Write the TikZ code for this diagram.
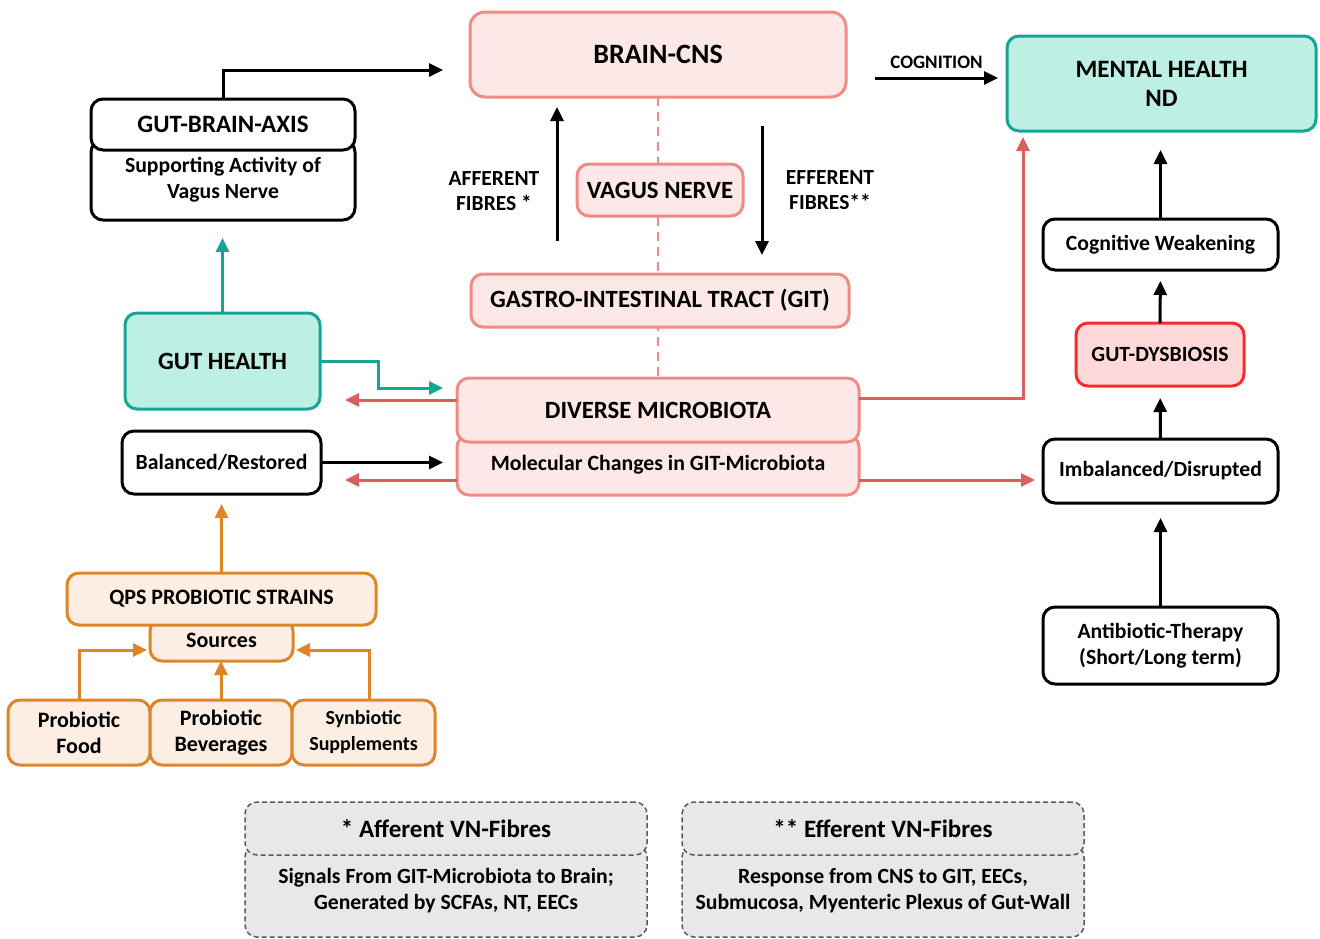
\documentclass[tikz,border=0pt]{standalone}
\usepackage{fontspec}
\setmainfont{Carlito}
\usetikzlibrary{arrows.meta, positioning}
\definecolor{colorPinkFill}{HTML}{FDE8E8}
\definecolor{colorPinkLine}{HTML}{F08A84}
\definecolor{colorRedArrow}{HTML}{D9605A}
\definecolor{colorMintFill}{HTML}{BDEFE3}
\definecolor{colorTealLine}{HTML}{16A595}
\definecolor{colorDysFill}{HTML}{FFD9D9}
\definecolor{colorDysLine}{HTML}{F42C2C}
\definecolor{colorOrangeLine}{HTML}{DE8626}
\definecolor{colorOrangeFill}{HTML}{FDEEE3}
\definecolor{colorNoteFill}{HTML}{E8E8E8}
\definecolor{colorNoteLine}{HTML}{5A5A5A}
\newcommand{\fsz}[2]{\fontsize{#1}{#2}\selectfont}
\tikzset{
  box/.style={draw, rounded corners=12pt, line width=3pt, align=center, inner sep=0pt, outer sep=0pt, font=\bfseries\fsz{21.7}{26}},
  blackbox/.style={box, draw=black, fill=white},
  pinkbox/.style={box, draw=colorPinkLine, fill=colorPinkFill, font=\bfseries\fsz{24.8}{28}},
  mintbox/.style={box, draw=colorTealLine, fill=colorMintFill, font=\bfseries\fsz{24.8}{29}},
  dysbox/.style={box, draw=colorDysLine, fill=colorDysFill},
  orangebox/.style={box, draw=colorOrangeLine, fill=colorOrangeFill, font=\bfseries\fsz{22}{26}},
  notebox/.style={box, draw=colorNoteLine, fill=colorNoteFill, line width=1.5pt, dash pattern=on 5pt off 3pt},
  link/.style={line width=3pt, ->},
  blacklink/.style={link, black},
  redlink/.style={link, colorRedArrow},
  teallink/.style={link, colorTealLine},
  orangelink/.style={link, colorOrangeLine},
  fibre/.style={align=center, font=\bfseries\fsz{21.5}{25}}
}

\begin{document}
\begin{tikzpicture}[x=1pt, y=-1pt, >={Triangle[length=14pt,width=13pt]}]
\useasboundingbox (0,0) rectangle (1320,938);

% centre column: brain, vagus nerve, git, microbiota
\node[pinkbox, minimum width=376pt, minimum height=85pt, rounded corners=15pt, font=\bfseries\fsz{28}{30}] (brain) at (658,54.5) {BRAIN-CNS};
\node[pinkbox, minimum width=402pt, minimum height=60pt, font=\bfseries\fsz{21.8}{24}] (molecular) at (658,465) {Molecular Changes in GIT-Microbiota};
\node[pinkbox, minimum width=402pt, minimum height=64pt, above=-7pt of molecular] (diverse) {DIVERSE MICROBIOTA};
\draw[colorPinkLine, line width=2.6pt, dash pattern=on 9pt off 6pt] (brain.south) -- (diverse.north);
\node[pinkbox, minimum width=166pt, minimum height=52pt] (vagus) at (660,190) {VAGUS NERVE};
\node[pinkbox, minimum width=378pt, minimum height=53pt] (git) at (660,300.5) {GASTRO-INTESTINAL TRACT (GIT)};

\coordinate (affS) at (557,241);
\coordinate (affE) at (557,107);
\coordinate (effS) at (762,126);
\coordinate (effE) at (762,255);
\draw[blacklink] (affS) -- (affE);
\draw[blacklink] (effS) -- (effE);
\node[fibre] (afferent) at (494,191) {AFFERENT\\FIBRES *};
\node[fibre] (efferent) at (830,190) {EFFERENT\\FIBRES**};

% right column
\node[mintbox, minimum width=309pt, minimum height=95pt, font=\bfseries\fsz{25}{29}] (mental) at (1161.5,83.5) {MENTAL HEALTH\\ND};
\node[blackbox, minimum width=235pt, minimum height=51pt] (cognitive) at (1160.5,244.5) {Cognitive Weakening};
\node[dysbox, minimum width=168pt, minimum height=63pt] (dysbiosis) at (1160,354.5) {GUT-DYSBIOSIS};
\node[blackbox, minimum width=235pt, minimum height=64pt] (imbalanced) at (1160.5,471) {Imbalanced/Disrupted};
\node[blackbox, minimum width=235pt, minimum height=77pt] (antibiotic) at (1160.5,645.5) {Antibiotic-Therapy\\(Short/Long term)};

\draw[blacklink] ([xshift=29pt,yshift=-23.5pt]brain.east) -- node[above=5pt, font=\bfseries\fsz{19}{20}] (cognition) {COGNITION} ([xshift=-9pt,yshift=5.5pt]mental.west);
\draw[blacklink, shorten >=19pt] (cognitive.north) -- (cognitive.north |- mental.south);
\draw[blacklink, shorten >=11pt] (dysbiosis.north) -- (cognitive.south);
\draw[blacklink, shorten >=12pt] (imbalanced.north) -- (dysbiosis.south);
\draw[blacklink, shorten >=15pt] (antibiotic.north) -- (imbalanced.south);

% left column
\node[blackbox, minimum width=264pt, minimum height=80pt] (gbaNote) at (223,180) {Supporting Activity of\\Vagus Nerve};
\node[blackbox, minimum width=264pt, minimum height=51pt, font=\bfseries\fsz{25}{26}, above=-10pt of gbaNote] (gba) {GUT-BRAIN-AXIS};
\node[mintbox, minimum width=195pt, minimum height=96pt] (gut) at (222.5,361) {GUT HEALTH};
\node[blackbox, minimum width=199pt, minimum height=63pt] (balanced) at (221.5,462.5) {Balanced/Restored};

\draw[blacklink] (gba.north) |- ([xshift=-27pt,yshift=-15.5pt]brain.west);
\draw[teallink, shorten >=18pt] (gut.north) -- (gut.north |- gbaNote.south);
\draw[teallink] (gut.east) -- ++(58,0) |- ([xshift=-14pt,yshift=22pt]diverse.west);
\draw[blacklink, shorten >=14pt] (balanced.east) -- (balanced.east -| molecular.west);
\draw[redlink] ([yshift=10pt]diverse.west) -- ([xshift=25pt,yshift=-39pt]gut.east);
\draw[redlink] ([yshift=-15pt]molecular.west) -- ([xshift=24pt,yshift=-17.5pt]balanced.east);
\draw[redlink, shorten >=6pt] ([yshift=12pt]diverse.east) -| ([xshift=16pt]mental.south west);
\draw[redlink, shorten >=8pt] ([yshift=-15pt]molecular.east) -- ([yshift=-9pt]imbalanced.west);

% probiotic sources
\node[orangebox, minimum width=143pt, minimum height=42pt] (sources) at (221.5,640) {Sources};
\node[orangebox, minimum width=309pt, minimum height=52pt, above=-6pt of sources] (qps) {QPS PROBIOTIC STRAINS};
\node[orangebox, minimum width=142pt, minimum height=65pt] (food) at (79,732.5) {Probiotic\\Food};
\node[orangebox, minimum width=142pt, minimum height=65pt, right=0pt of food] (beverages) {Probiotic\\Beverages};
\node[orangebox, minimum width=143pt, minimum height=65pt, right=0pt of beverages, font=\bfseries\fsz{20}{26}] (synbiotic) {Synbiotic\\Supplements};

\draw[orangelink, shorten >=10pt] (qps.north) -- (qps.north |- balanced.south);
\draw[orangelink] (food.north) |- ([xshift=-3pt,yshift=-10pt]sources.west);
\draw[orangelink] (beverages.north) -- (beverages.north |- sources.south);
\draw[orangelink] ([xshift=6pt]synbiotic.north) |- ([xshift=3pt,yshift=-10pt]sources.east);

% footnotes
\node[notebox, minimum width=402pt, minimum height=92pt] (affNote) at (446,891) {Signals From GIT-Microbiota to Brain;\\Generated by SCFAs, NT, EECs};
\node[notebox, minimum width=402pt, minimum height=53pt, above=-10pt of affNote, font=\bfseries\fsz{25}{26}] (affTitle) {* Afferent VN-Fibres};
\node[notebox, minimum width=402pt, minimum height=92pt] (effNote) at (883,891) {Response from CNS to GIT, EECs,\\Submucosa, Myenteric Plexus of Gut-Wall};
\node[notebox, minimum width=402pt, minimum height=53pt, above=-10pt of effNote, font=\bfseries\fsz{25}{26}] (effTitle) {** Efferent VN-Fibres};
\end{tikzpicture}
\end{document}
